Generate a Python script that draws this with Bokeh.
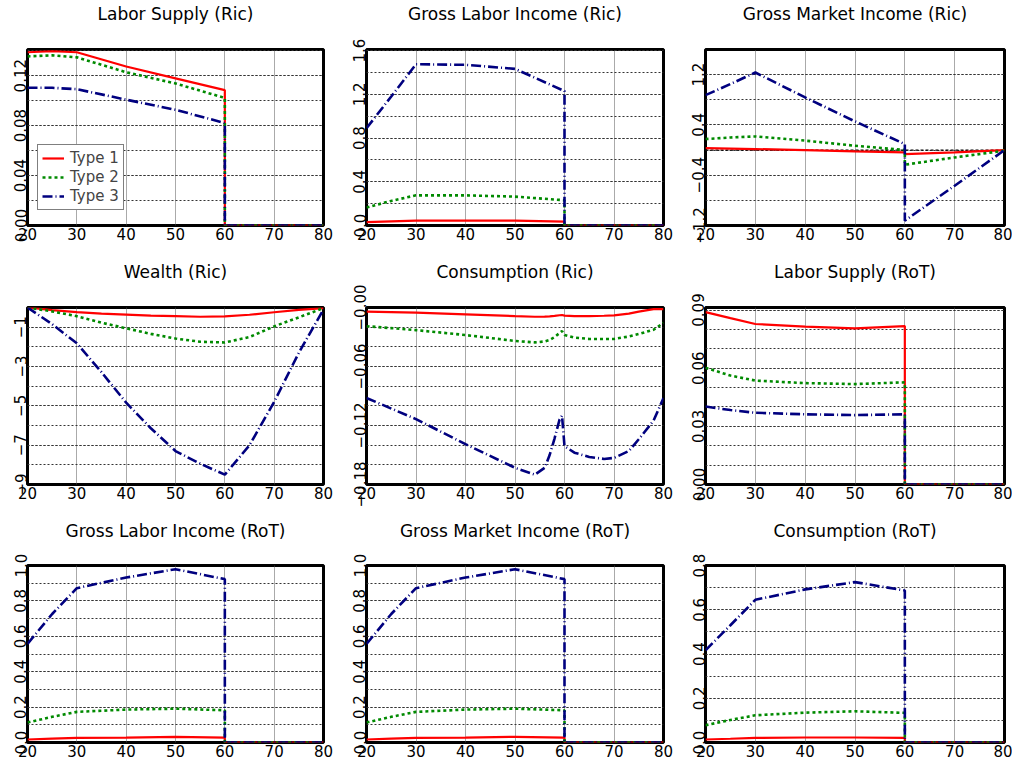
from bokeh.plotting import figure
from bokeh.layouts import column, row
from bokeh.models import Range1d, FixedTicker, Legend, LegendItem, Span, LinearAxis, Title
from bokeh.core.properties import value
from bokeh.embed import file_html
from bokeh.resources import INLINE

FONT = "DejaVu Sans"

# ---------------- data ----------------
series_names = ["Type 1", "Type 2", "Type 3"]
age_ticks = [20, 30, 40, 50, 60, 70, 80]

ages_a = [20, 25, 30, 40, 50, 60, 60, 70, 80]

ls_ric_t1 = [0.1388, 0.1396, 0.1388, 0.1274, 0.1179, 0.1084, 0, 0, 0]
ls_ric_t2 = [0.1355, 0.1363, 0.1347, 0.1228, 0.1138, 0.1022, 0, 0, 0]
ls_ric_t3 = [0.1103, 0.1103, 0.1092, 0.1008, 0.0927, 0.0821, 0, 0, 0]

gli_ric_t1 = [0.030, 0.038, 0.045, 0.045, 0.045, 0.036, 0, 0, 0]
gli_ric_t2 = [0.165, 0.225, 0.276, 0.276, 0.264, 0.231, 0, 0, 0]
gli_ric_t3 = [0.89, 1.18, 1.475, 1.47, 1.433, 1.23, 0, 0, 0]

gmi_ric_t1 = [0.032, 0.024, 0.016, 0.0, -0.020, -0.037, -0.064, -0.037, 0.0]
gmi_ric_t2 = [0.175, 0.200, 0.217, 0.150, 0.069, 0.0, -0.233, -0.117, -0.01]
gmi_ric_t3 = [0.874, 1.05, 1.234, 0.837, 0.456, 0.095, -1.123, -0.567, 0.0]

ages_w = [20, 25, 30, 35, 40, 45, 50, 55, 60, 65, 70, 75, 80]
w_ric_t1 = [0, -0.13, -0.24, -0.31, -0.36, -0.41, -0.44, -0.47, -0.45, -0.37, -0.24, -0.12, -0.03]
w_ric_t2 = [0, -0.20, -0.44, -0.77, -1.06, -1.34, -1.58, -1.74, -1.78, -1.50, -0.96, -0.50, -0.03]
w_ric_t3 = [0, -0.85, -1.82, -3.29, -4.84, -6.14, -7.30, -7.94, -8.50, -7.00, -4.80, -2.30, -0.10]

ages_c = [20, 30, 40, 50, 54, 56, 57, 58, 59, 59.5, 60, 62, 65, 68, 70, 73, 75, 78, 80]
c_ric_t1 = [-0.0042, -0.0052, -0.0069, -0.0087, -0.0094, -0.0093, -0.0090, -0.0086, -0.0079,
            -0.0076, -0.0082, -0.0087, -0.0087, -0.0084, -0.0080, -0.0063, -0.0042, -0.0017, -0.0017]
c_ric_t2 = [-0.019, -0.023, -0.028, -0.034, -0.0355, -0.0345, -0.033, -0.030, -0.026,
            -0.024, -0.028, -0.0306, -0.032, -0.032, -0.032, -0.0295, -0.027, -0.0226, -0.0156]
c_ric_t3 = [-0.092, -0.1135, -0.139, -0.163, -0.170, -0.163, -0.150, -0.133, -0.114,
            -0.110, -0.141, -0.1476, -0.152, -0.154, -0.153, -0.146, -0.134, -0.115, -0.092]

ls_rot_t1 = [0.0889, 0.0858, 0.0828, 0.0814, 0.0805, 0.0817, 0, 0, 0]
ls_rot_t2 = [0.0602, 0.0562, 0.0536, 0.0523, 0.0518, 0.0527, 0, 0, 0]
ls_rot_t3 = [0.0402, 0.0384, 0.0370, 0.0362, 0.0358, 0.0362, 0, 0, 0]

gli_rot_t1 = [0.017, 0.022, 0.026, 0.028, 0.032, 0.028, 0, 0, 0]
gli_rot_t2 = [0.113, 0.145, 0.173, 0.186, 0.191, 0.182, 0, 0, 0]
gli_rot_t3 = [0.557, 0.726, 0.872, 0.932, 0.979, 0.923, 0, 0, 0]

gmi_rot_t1 = [0.017, 0.022, 0.026, 0.028, 0.032, 0.028, 0, 0, 0]
gmi_rot_t2 = [0.113, 0.145, 0.173, 0.186, 0.191, 0.182, 0, 0, 0]
gmi_rot_t3 = [0.557, 0.726, 0.872, 0.932, 0.979, 0.923, 0, 0, 0]

c_rot_t1 = [0.0135, 0.017, 0.021, 0.0225, 0.0225, 0.021, 0, 0, 0]
c_rot_t2 = [0.078, 0.102, 0.123, 0.135, 0.141, 0.134, 0, 0, 0]
c_rot_t3 = [0.417, 0.530, 0.645, 0.692, 0.725, 0.687, 0, 0, 0]

panels = [
    dict(title="Labor Supply (Ric)", x=ages_a, ys=[ls_ric_t1, ls_ric_t2, ls_ric_t3],
         yr=(0.0, 0.141), step=0.02, labels=[0.0, 0.04, 0.08, 0.12], fmt="%.2f"),
    dict(title="Gross Labor Income (Ric)", x=ages_a, ys=[gli_ric_t1, gli_ric_t2, gli_ric_t3],
         yr=(0.0, 1.61), step=0.2, labels=[0.0, 0.4, 0.8, 1.2, 1.6], fmt="%.1f"),
    dict(title="Gross Market Income (Ric)", x=ages_a, ys=[gmi_ric_t1, gmi_ric_t2, gmi_ric_t3],
         yr=(-1.2, 1.6), step=0.4, labels=[-1.2, -0.4, 0.4, 1.2], fmt="%.1f", zero=True),
    dict(title="Wealth (Ric)", x=ages_w, ys=[w_ric_t1, w_ric_t2, w_ric_t3],
         yr=(-9.0, 0.0), step=1.0, labels=[-9.0, -7.0, -5.0, -3.0, -1.0], fmt="%d"),
    dict(title="Consumption (Ric)", x=ages_c, ys=[c_ric_t1, c_ric_t2, c_ric_t3],
         yr=(-0.18, 0.0), step=0.02, labels=[-0.18, -0.12, -0.06, 0.0], fmt="%.2f", negzero=True),
    dict(title="Labor Supply (RoT)", x=ages_a, ys=[ls_rot_t1, ls_rot_t2, ls_rot_t3],
         yr=(0.0, 0.0913), step=0.01, labels=[0.0, 0.03, 0.06, 0.09], fmt="%.2f"),
    dict(title="Gross Labor Income (RoT)", x=ages_a, ys=[gli_rot_t1, gli_rot_t2, gli_rot_t3],
         yr=(0.0, 1.0), step=0.1, labels=[0.0, 0.2, 0.4, 0.6, 0.8, 1.0], fmt="%.1f"),
    dict(title="Gross Market Income (RoT)", x=ages_a, ys=[gmi_rot_t1, gmi_rot_t2, gmi_rot_t3],
         yr=(0.0, 1.0), step=0.1, labels=[0.0, 0.2, 0.4, 0.6, 0.8, 1.0], fmt="%.1f"),
    dict(title="Consumption (RoT)", x=ages_a, ys=[c_rot_t1, c_rot_t2, c_rot_t3],
         yr=(0.0, 0.8), step=0.1, labels=[0.0, 0.2, 0.4, 0.6, 0.8], fmt="%.1f"),
]

# ---------------- styles / layout ----------------
line_colors = ["#ff0000", "#008a00", "#00007f"]
line_dashes = ["solid", "3 3", "10 3 1 3"]
line_widths = [2.2, 2.6, 2.6]

col_widths = [347, 339, 326]
col_left = [27, 19, 19]
col_right = [24, 23, 8]
row_heights = [258, 259, 246]
row_border_top = [49, 49, 48]
row_title_gap = [26, 26, 25]
border_bottom = [33, 33, 21]


def fmt_label(v, fmt, negzero=False):
    if fmt == "%d":
        s = "%d" % int(round(v))
    else:
        s = fmt % v
    if negzero and v == 0:
        s = "-" + s
    return s.replace("-", "\u2212")


def make_panel(i, cfg):
    r, c = divmod(i, 3)
    lo, hi = cfg["yr"]
    step = cfg["step"]
    n = int(round((hi - lo) / step + 1e-9))
    grid_ticks = [round(lo + k * step, 6) for k in range(n + 1)]
    label_ticks = [round(v, 6) for v in cfg["labels"]]

    p = figure(width=col_widths[c], height=row_heights[r],
               x_range=Range1d(20, 80), y_range=Range1d(lo, hi),
               output_backend="svg", toolbar_location=None,
               min_border=0, min_border_left=col_left[c], min_border_right=col_right[c],
               min_border_top=row_border_top[r], min_border_bottom=border_bottom[r],
               title=None)

    p.outline_line_color = "black"
    p.outline_line_width = 3
    p.background_fill_color = "white"
    p.border_fill_color = "white"

    xax = p.below[0]
    yax = p.left[0]
    xax.ticker = FixedTicker(ticks=age_ticks)
    yax.ticker = FixedTicker(ticks=label_ticks, minor_ticks=grid_ticks)
    yax.major_label_overrides = {v: fmt_label(v, cfg["fmt"], cfg.get("negzero", False))
                                 for v in label_ticks}
    yax.major_label_orientation = "vertical"
    for ax in (xax, yax):
        ax.axis_line_color = None
        ax.major_tick_line_color = None
        ax.minor_tick_line_color = None
        ax.major_tick_out = 0
        ax.major_tick_in = 0
        ax.minor_tick_out = 0
        ax.minor_tick_in = 0
        ax.major_label_text_font = FONT
        ax.major_label_text_font_size = "15px"
        ax.major_label_text_color = "black"
    xax.major_label_standoff = 2
    yax.major_label_standoff = 1

    p.xgrid.grid_line_color = "#555555"
    p.xgrid.grid_line_dash = "1 1"
    p.xgrid.grid_line_width = 1
    p.ygrid.grid_line_color = "#333333"
    p.ygrid.grid_line_dash = "2 2"
    p.ygrid.grid_line_width = 1
    p.ygrid.minor_grid_line_color = "#333333"
    p.ygrid.minor_grid_line_dash = "2 2"
    p.ygrid.minor_grid_line_width = 1

    # invisible spacer axis between frame and title (innermost in the "above" panel)
    spacer = LinearAxis(ticker=FixedTicker(ticks=[50]), axis_line_color=None,
                        major_tick_line_color=None, minor_tick_line_color=None,
                        major_tick_out=row_title_gap[r], major_tick_in=0,
                        minor_tick_out=0, minor_tick_in=0, major_label_standoff=0,
                        major_label_overrides={50: ""})
    p.add_layout(spacer, "above")
    ttl = Title(text=cfg["title"], align="center", text_font=FONT, text_font_size="17px",
                text_font_style="normal", text_color="black", standoff=0)
    p.add_layout(ttl, "above")

    if cfg.get("zero"):
        p.add_layout(Span(location=0, dimension="width", line_color="black",
                          line_dash="3 2", line_width=1.3, level="underlay"))

    rends = []
    for k in range(3):
        rr = p.line(cfg["x"], cfg["ys"][k], line_color=line_colors[k],
                    line_dash=line_dashes[k], line_width=line_widths[k])
        rends.append(rr)

    if i == 0:
        leg = Legend(items=[LegendItem(label=value(series_names[k]), renderers=[rends[k]])
                            for k in range(3)],
                     location=(10, 15))
        leg.label_text_font = FONT
        leg.label_text_font_size = "15px"
        leg.label_height = 14
        leg.glyph_height = 14
        leg.glyph_width = 22
        leg.spacing = 1
        leg.padding = 4
        leg.margin = 0
        leg.label_standoff = 6
        leg.border_line_color = "black"
        leg.border_line_width = 1.5
        leg.background_fill_color = "white"
        leg.background_fill_alpha = 1.0
        p.add_layout(leg)
    return p


figs = [make_panel(i, cfg) for i, cfg in enumerate(panels)]
layout = column(row(*figs[0:3]), row(*figs[3:6]), row(*figs[6:9]))

open("out.html", "w").write(file_html(layout, INLINE))
